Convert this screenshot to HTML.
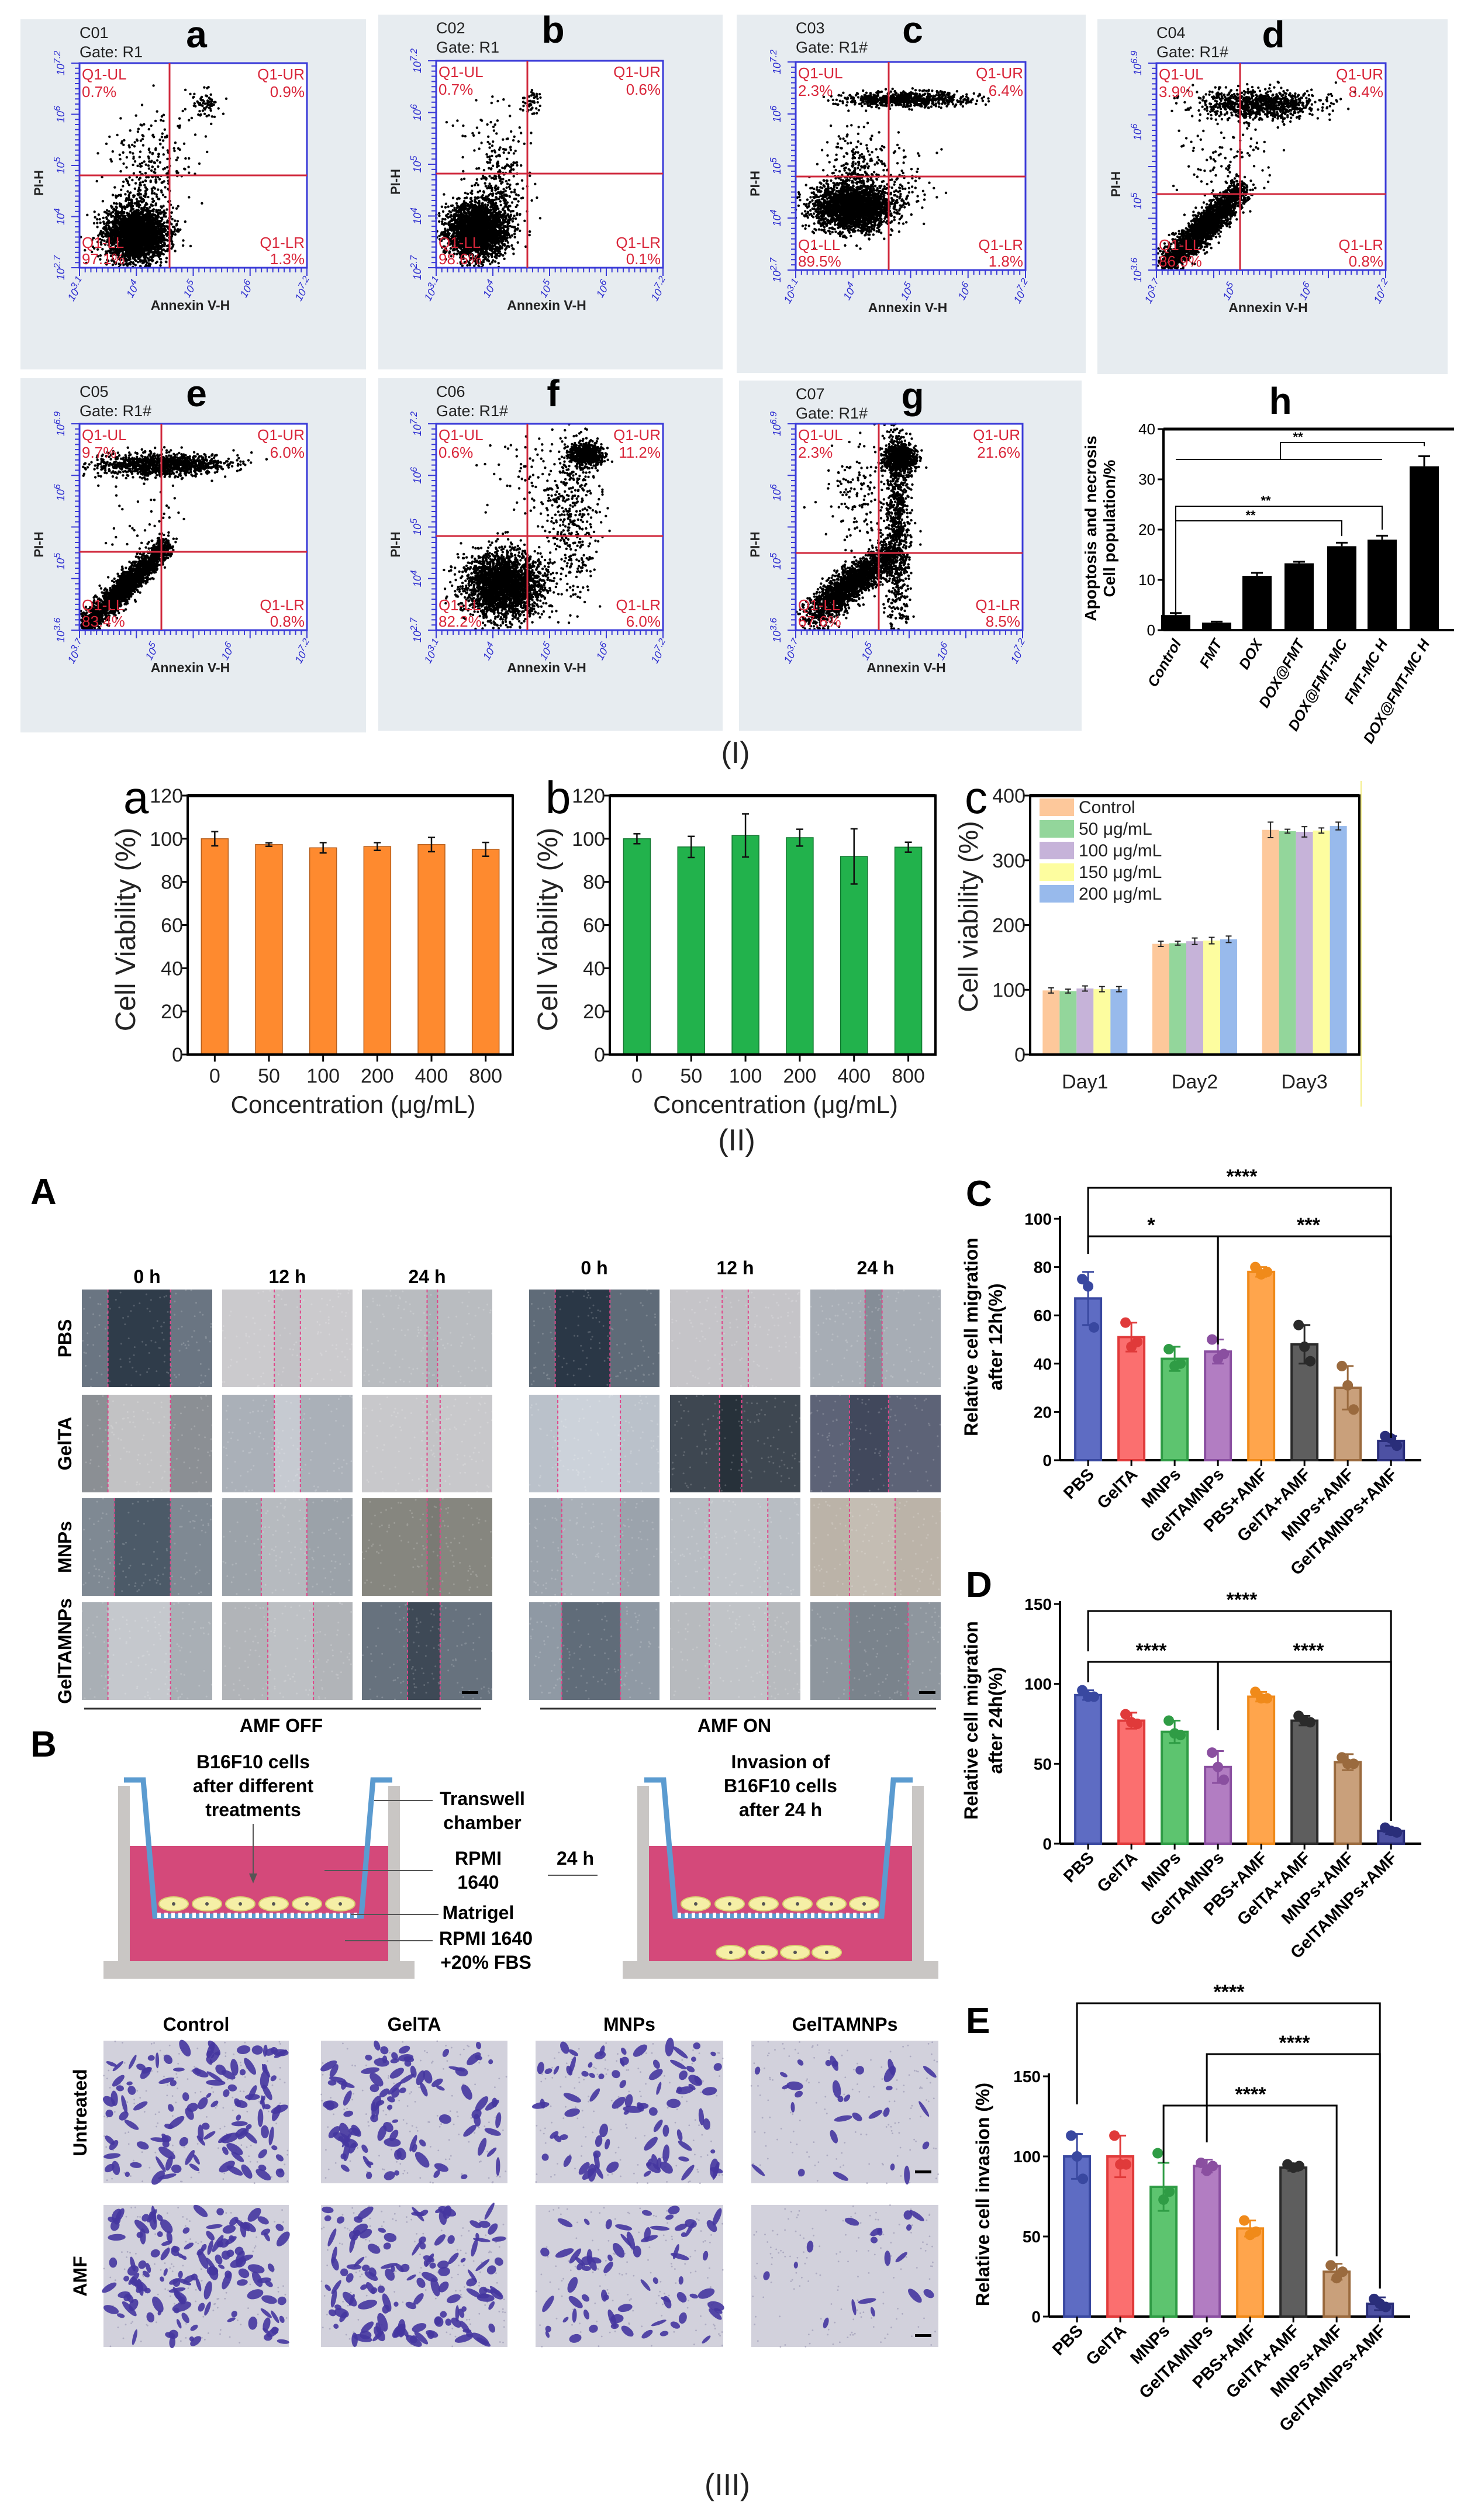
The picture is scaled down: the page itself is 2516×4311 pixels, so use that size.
<!DOCTYPE html>
<html><head><meta charset="utf-8"><title>Figure</title>
<style>
html,body{margin:0;padding:0;background:#fff;}
svg{display:block;}
</style></head>
<body>
<svg id="fig" xmlns="http://www.w3.org/2000/svg" width="2516" height="4311" viewBox="0 0 2516 4311">
<rect x="0" y="0" width="2516" height="4311" fill="#ffffff"/>
</svg>
<script>
/* ---------- DATA ---------- */
// Section I h
const hCats = ['Control','FMT','DOX','DOX@FMT','DOX@FMT-MC','FMT-MC H','DOX@FMT-MC H'];
const hVals = [3.0, 1.5, 10.8, 13.3, 16.7, 18.0, 32.6];
const hErrs = [0.4, 0.2, 0.6, 0.3, 0.7, 0.8, 2.0];
const hTicks = [0, 10, 20, 30, 40];
// Section II a/b
const conc = ['0','50','100','200','400','800'];
const viaA = [100, 97.3, 95.8, 96.4, 97.3, 95.1];
const errA = [3.3, 0.8, 2.4, 1.8, 3.3, 3.2];
const viaB = [100, 96.2, 101.5, 100.5, 91.8, 96.1];
const errB = [2.3, 4.9, 10.0, 3.9, 12.8, 2.3];
const viaTicks = [0, 20, 40, 60, 80, 100, 120];
// Section II c
const days = ['Day1','Day2','Day3'];
const doseNames = ['Control','50 μg/mL','100 μg/mL','150 μg/mL','200 μg/mL'];
const day1 = [99, 98, 102, 101, 101];
const day2 = [171, 172, 175, 176, 178];
const day3 = [347, 345, 344, 346, 353];
const day1Err = [4, 3, 4, 4, 4];
const day2Err = [4, 3, 5, 5, 5];
const day3Err = [12, 3, 8, 4, 6];
const dayTicks = [0, 100, 200, 300, 400];
// Section III
const groups = ['PBS','GelTA','MNPs','GelTAMNPs','PBS+AMF','GelTA+AMF','MNPs+AMF','GelTAMNPs+AMF'];
const migr12 = [67, 51, 42, 45, 78, 48, 30, 8];
const migr12Err = [11, 6, 5, 5, 2, 8, 9, 2];
const migr12Dots = [[75,72,55],[57,47,49],[46,39,40],[50,42,44],[80,77,78],[56,47,41],[39,31,21],[10,9,6]];
const migr12Ticks = [0,20,40,60,80,100];
const migr24 = [93, 77, 70, 48, 92, 77, 51, 8];
const migr24Err = [3, 5, 7, 10, 3, 3, 5, 2];
const migr24Dots = [[96,92,92],[81,76,75],[77,69,68],[57,48,40],[95,91,91],[80,77,76],[54,50,50],[10,8,7]];
const migr24Ticks = [0,50,100,150];
const inv = [100, 100, 81, 94, 55, 93, 28, 8];
const invErr = [14, 13, 15, 4, 5, 2, 5, 4];
const invDots = [[113,100,86],[113,95,95],[102,73,78],[96,91,94],[60,51,53],[95,93,94],[32,24,28],[11,8,6]];
const invTicks = [0,50,100,150];
// Flow cytometry quadrant percentages [UL, UR, LL, LR]
const flowQ = {a:['0.7%','0.9%','97.1%','1.3%'], b:['0.7%','0.6%','98.6%','0.1%'], c:['2.3%','6.4%','89.5%','1.8%'], d:['3.9%','8.4%','86.9%','0.8%'], e:['9.7%','6.0%','83.4%','0.8%'], f:['0.6%','11.2%','82.2%','6.0%'], g:['2.3%','21.6%','67.6%','8.5%']};
// cluster descriptors (fractions of plot): gaussian [cx,cy,sx,sy,n]; line ['L',x1,y1,x2,y2,w,n]
const flowClusters = {
 a:[[0.25,0.84,0.065,0.065,2800],[0.30,0.60,0.08,0.14,300],[0.55,0.20,0.035,0.035,70],[0.35,0.35,0.1,0.1,50]],
 b:[[0.18,0.82,0.065,0.065,2600],[0.28,0.62,0.06,0.12,280],[0.42,0.20,0.02,0.03,50],[0.22,0.4,0.08,0.1,50]],
 c:[[0.25,0.70,0.085,0.055,2400],[0.48,0.18,0.14,0.018,700],[0.25,0.50,0.06,0.08,200],[0.4,0.6,0.12,0.1,150]],
 d:[['L',0.06,0.96,0.36,0.62,0.03,2200],[0.45,0.20,0.13,0.035,900],[0.3,0.45,0.1,0.12,100]],
 e:[['L',0.04,0.97,0.37,0.60,0.025,2200],[0.36,0.20,0.14,0.028,1100],[0.3,0.5,0.1,0.12,50]],
 f:[[0.30,0.78,0.085,0.075,2600],[0.66,0.15,0.035,0.028,600],[0.60,0.45,0.06,0.2,400],[0.45,0.3,0.1,0.15,100]],
 g:[['L',0.08,0.93,0.40,0.64,0.035,2000],[0.45,0.50,0.028,0.25,900],[0.46,0.17,0.035,0.035,700],[0.28,0.35,0.08,0.15,150]]
};

/* ---------- HELPERS ---------- */
const NS='http://www.w3.org/2000/svg';
const svg=document.getElementById('fig');
const FONT='"Liberation Sans", Arial, sans-serif';
function mk(tag, attrs, name, parent){
  const el=document.createElementNS(NS,tag);
  for(const k in attrs) el.setAttribute(k,attrs[k]);
  
  
  (parent||svg).appendChild(el);
  return el;
}
function txt(x,y,s,size,opts,name,parent){
  const a=Object.assign({x:x,y:y,'font-size':size,'font-family':FONT},opts||{});
  const el=mk('text',a,name,parent);
  el.textContent=s;
  return el;
}
function line(x1,y1,x2,y2,stroke,w,name,parent,extra){
  return mk('line',Object.assign({x1,y1,x2,y2,stroke,'stroke-width':w},extra||{}),name,parent);
}
let seed=12345;
function rnd(){ seed=(seed*1103515245+12345)%2147483648; return seed/2147483648; }
function gauss(){ let u=rnd()||1e-6, v=rnd(); return Math.sqrt(-2*Math.log(u))*Math.cos(2*Math.PI*v); }

/* ---------- SECTION I: FLOW PANELS ---------- */
const flowPanels=[
 {id:'a',code:'C01',gate:'Gate: R1', box:[35,33,626,632], plot:[136,108,525,458], vx:290, hy:300, xt:['3.1','4','5','6','7.2'], yt:['2.7','4','5','6','7.2']},
 {id:'b',code:'C02',gate:'Gate: R1', box:[647,25,1236,632], plot:[746,104,1134,458], vx:902, hy:297, xt:['3.1','4','5','6','7.2'], yt:['2.7','4','5','6','7.2']},
 {id:'c',code:'C03',gate:'Gate: R1#', box:[1260,25,1857,638], plot:[1361,106,1754,462], vx:1520, hy:302, xt:['3.1','4','5','6','7.2'], yt:['2.7','4','5','6','7.2']},
 {id:'d',code:'C04',gate:'Gate: R1#', box:[1877,33,2476,640], plot:[1978,108,2370,462], vx:2121, hy:332, xt:['3.7','5','6','7.2'], yt:['3.6','5','6','6.9']},
 {id:'e',code:'C05',gate:'Gate: R1#', box:[35,647,626,1253], plot:[136,725,525,1078], vx:276, hy:944, xt:['3.7','5','6','7.2'], yt:['3.6','5','6','6.9']},
 {id:'f',code:'C06',gate:'Gate: R1#', box:[647,647,1236,1250], plot:[746,725,1134,1078], vx:902, hy:917, xt:['3.1','4','5','6','7.2'], yt:['2.7','4','5','6','7.2']},
 {id:'g',code:'C07',gate:'Gate: R1#', box:[1264,651,1850,1250], plot:[1361,725,1749,1078], vx:1503, hy:946, xt:['3.7','5','6','7.2'], yt:['3.6','5','6','6.9']}
];
flowPanels.forEach(p=>{
  const g=mk('g',{},'flow-panel-'+p.id);
  const [bx0,by0,bx1,by1]=p.box, [px0,py0,px1,py1]=p.plot;
  mk('rect',{x:bx0,y:by0,width:bx1-bx0,height:by1-by0,fill:'#e7ecf0'},'panel-background',g);
  mk('rect',{x:px0,y:py0,width:px1-px0,height:py1-py0,fill:'#ffffff'},'plot-area',g);
  txt(px0,by0+32,p.code,27,{fill:'#222'},'sample-code',g);
  txt(px0,by0+65,p.gate,27,{fill:'#222'},'gate-label',g);
  txt(px0+200,by0+48,p.id,64,{'font-weight':'bold',fill:'#000','text-anchor':'middle'},'panel-letter',g);
  const W=px1-px0, H=py1-py0;
  const dg=mk('g',{fill:'#000'},'dot-cloud',g);
  const cl=flowClusters[p.id];
  cl.forEach(c=>{
    if(c[0]==='L'){
      const [_,x1,y1,x2,y2,w,n]=c;
      for(let i=0;i<n;i++){
        const t=Math.min(1,Math.max(0,0.5+0.3*gauss()));
        let fx=x1+(x2-x1)*t+w*gauss(), fy=y1+(y2-y1)*t+w*gauss();
        if(fx<0||fx>1||fy<0||fy>1) continue;
        mk('circle',{cx:(px0+fx*W).toFixed(1),cy:(py0+fy*H).toFixed(1),r:2.2},'event-dot',dg);
      }
    } else {
      const [cx,cy,sx,sy,n]=c;
      for(let i=0;i<n;i++){
        let fx=cx+sx*gauss(), fy=cy+sy*gauss();
        if(fx<0||fx>1||fy<0||fy>1) continue;
        mk('circle',{cx:(px0+fx*W).toFixed(1),cy:(py0+fy*H).toFixed(1),r:2.2},'event-dot',dg);
      }
    }
  });
  mk('rect',{x:px0,y:py0,width:W,height:H,fill:'none',stroke:'#3a3ad8','stroke-width':3},'plot-border',g);
  line(p.vx,py0,p.vx,py1,'#d0283c',3,'quadrant-vertical-gate',g);
  line(px0,p.hy,px1,p.hy,'#d0283c',3,'quadrant-horizontal-gate',g);
  const q=flowQ[p.id], red='#d9263a';
  txt(px0+4,py0+28,'Q1-UL',26,{fill:red},'quadrant-ul-label',g);
  txt(px0+4,py0+58,q[0],26,{fill:red},'quadrant-ul-value',g);
  txt(px1-4,py0+28,'Q1-UR',26,{fill:red,'text-anchor':'end'},'quadrant-ur-label',g);
  txt(px1-4,py0+58,q[1],26,{fill:red,'text-anchor':'end'},'quadrant-ur-value',g);
  txt(px0+4,py1-34,'Q1-LL',26,{fill:red},'quadrant-ll-label',g);
  txt(px0+4,py1-6,q[2],26,{fill:red},'quadrant-ll-value',g);
  txt(px1-4,py1-34,'Q1-LR',26,{fill:red,'text-anchor':'end'},'quadrant-lr-label',g);
  txt(px1-4,py1-6,q[3],26,{fill:red,'text-anchor':'end'},'quadrant-lr-value',g);
  for(let i=0;i<=40;i++){
    const x=px0+i*W/40; line(x,py1,x,py1+(i%10===0?14:8),'#3a3ad8',2,'x-tick',g);
    const y=py0+i*H/40; line(px0,y,px0-(i%10===0?14:8),y,'#3a3ad8',2,'y-tick',g);
  }
  p.xt.forEach((t,i)=>{
    const x=px0+i*W/(p.xt.length-1);
    const el=txt(x,py1+40,'10',18,{fill:'#2a2ad0','font-style':'italic',transform:`rotate(-60 ${x} ${py1+40})`,'text-anchor':'middle'},'x-tick-label',g);
    const ts=document.createElementNS(NS,'tspan'); ts.setAttribute('dy','-7'); ts.setAttribute('font-size','16'); ts.textContent=t; el.appendChild(ts);
  });
  p.yt.forEach((t,i)=>{
    const y=py1-i*H/(p.yt.length-1), x=px0-26;
    const el=txt(x,y,'10',18,{fill:'#2a2ad0','font-style':'italic',transform:`rotate(-90 ${x} ${y})`,'text-anchor':'middle'},'y-tick-label',g);
    const ts=document.createElementNS(NS,'tspan'); ts.setAttribute('dy','-7'); ts.setAttribute('font-size','16'); ts.textContent=t; el.appendChild(ts);
  });
  txt((px0+px1)/2-5,py1+72,'Annexin V-H',23,{'font-weight':'bold','text-anchor':'middle',fill:'#222'},'x-axis-title',g);
  const ly=(py0+py1)/2+30, lx=px0-62;
  txt(lx,ly,'PI-H',22,{'font-weight':'bold','text-anchor':'middle',fill:'#222',transform:`rotate(-90 ${lx} ${ly})`},'y-axis-title',g);
});

/* ---------- SECTION I h: BAR CHART ---------- */
(function(){
  const g=mk('g',{},'chart-h');
  const x0=1990,x1=2487,yB=1078,yT=734,max=40;
  const Y=v=>yB-(v/max)*(yB-yT);
  const centers=[2011,2081,2150,2222,2295,2364,2436];
  txt(2190,708,'h',64,{'font-weight':'bold','text-anchor':'middle'},'panel-letter',g);
  line(x0,yT,x1,yT,'#000',5,'plot-top-border',g);
  line(x0,yT,x0,yB,'#000',4,'y-axis-line',g);
  line(x0,yB,x1,yB,'#000',4,'x-axis-line',g);
  hTicks.forEach(t=>{ line(x0-10,Y(t),x0,Y(t),'#000',3,'y-tick',g); txt(x0-14,Y(t)+9,String(t),26,{'text-anchor':'end'},'y-tick-label',g); });
  const xs=i=>x0+(centers[i]-1990);
  hVals.forEach((v,i)=>{
    const c=xs(i);
    mk('rect',{x:c-25,y:Y(v),width:50,height:yB-Y(v),fill:'#000'},'bar-'+hCats[i].toLowerCase(),g);
    line(c,Y(v+hErrs[i]),c,Y(v),'#000',3,'error-bar',g);
    line(c-10,Y(v+hErrs[i]),c+10,Y(v+hErrs[i]),'#000',3,'error-cap',g);
    const lx=c+10, ly=yB+22;
    txt(lx,ly,hCats[i],25,{'font-weight':'bold','font-style':'italic','text-anchor':'end',transform:`rotate(-60 ${lx} ${ly})`},'x-tick-label',g);
  });
  mk('path',{d:`M${xs(0)} ${Y(1.5)} V891 H${xs(4)} V${Y(16.7+2)}`,fill:'none',stroke:'#000','stroke-width':2},'significance-bracket',g);
  mk('path',{d:`M${xs(0)} 891 V866 H${xs(5)} V${Y(18+2)}`,fill:'none',stroke:'#000','stroke-width':2},'significance-bracket',g);
  txt(2139,889,'**',22,{'font-weight':'bold','text-anchor':'middle'},'significance-label',g);
  txt(2165,864,'**',22,{'font-weight':'bold','text-anchor':'middle'},'significance-label',g);
  mk('path',{d:`M${xs(0)} 786 H${xs(5)} M2190 786 V757 H${xs(6)} V${Y(34.6+2)}`,fill:'none',stroke:'#000','stroke-width':2},'significance-bracket',g);
  txt(2220,755,'**',22,{'font-weight':'bold','text-anchor':'middle'},'significance-label',g);
  const ax=1875, ay=904;
  txt(ax,ay,'Apoptosis and necrosis',28,{'font-weight':'bold','text-anchor':'middle',transform:`rotate(-90 ${ax} ${ay})`},'y-axis-title',g);
  txt(ax+32,ay,'Cell population/%',28,{'font-weight':'bold','text-anchor':'middle',transform:`rotate(-90 ${ax+32} ${ay})`},'y-axis-title',g);
})();
txt(1258,1305,'(I)',52,{'text-anchor':'middle',fill:'#222'},'section-label-i');

/* ---------- SECTION II ---------- */
function vbar(name,letter,x0,x1,vals,errs,fill,stroke){
  const g=mk('g',{},name);
  const yB=1804,yT=1361,max=120;
  const Y=v=>yB-(v/max)*(yB-yT);
  const band=(x1-x0)/6;
  txt(x0-110,yT+30,letter,78,{},'panel-letter',g);
  vals.forEach((v,i)=>{
    const c=x0+band*(i+0.5);
    mk('rect',{x:c-23,y:Y(v),width:46,height:yB-Y(v),fill:fill,stroke:stroke,'stroke-width':1.5},'bar-'+conc[i],g);
    line(c,Y(v+errs[i]),c,Y(v-errs[i]),'#111',2.5,'error-bar',g);
    line(c-6,Y(v+errs[i]),c+6,Y(v+errs[i]),'#111',2.5,'error-cap',g);
    line(c-6,Y(v-errs[i]),c+6,Y(v-errs[i]),'#111',2.5,'error-cap',g);
    line(c,yB,c,yB+12,'#000',3,'x-tick',g);
    txt(c,yB+48,conc[i],34,{'text-anchor':'middle',fill:'#222'},'x-tick-label',g);
  });
  viaTicks.forEach(t=>{ line(x0-10,Y(t),x0,Y(t),'#000',3,'y-tick',g); txt(x0-8,Y(t)+12,String(t),34,{'text-anchor':'end',fill:'#222'},'y-tick-label',g); });
  mk('rect',{x:x0,y:yT,width:x1-x0,height:yB-yT,fill:'none',stroke:'#000','stroke-width':4},'plot-frame',g);
  line(x0,yT,x1,yT,'#000',6,'plot-top-border',g);
  txt((x0+x1)/2+5,yB+100,'Concentration (μg/mL)',42,{'text-anchor':'middle',fill:'#222'},'x-axis-title',g);
  const ax=x0-90, ay=1590;
  txt(ax,ay,'Cell Viability (%)',48,{'text-anchor':'middle',fill:'#222',transform:`rotate(-90 ${ax} ${ay})`},'y-axis-title',g);
}
vbar('chart-ii-a','a',321,877,viaA,errA,'#fe8a2f','#b85f1c');
vbar('chart-ii-b','b',1043,1600,viaB,errB,'#22b24c','#137a31');
(function(){
  const g=mk('g',{},'chart-ii-c');
  const x0=1762,x1=2325,yB=1804,yT=1361,max=400;
  const Y=v=>yB-(v/max)*(yB-yT);
  const band=(x1-x0)/3;
  const cols=['#fdc89b','#93d69b','#c6b3d9','#fdfd9f','#98baec'];
  const series=[day1,day2,day3], errs=[day1Err,day2Err,day3Err];
  txt(x0-112,yT+30,'c',78,{},'panel-letter',g);
  series.forEach((arr,gi)=>{
    const gc=x0+band*(gi+0.5);
    arr.forEach((v,j)=>{
      const c=gc+(j-2)*29;
      mk('rect',{x:c-14.5,y:Y(v),width:29,height:yB-Y(v),fill:cols[j]},'bar-'+days[gi].toLowerCase()+'-dose-'+j,g);
      const e=errs[gi][j];
      line(c,Y(v+e),c,Y(v-e),'#222',2,'error-bar',g);
      line(c-5,Y(v+e),c+5,Y(v+e),'#222',2,'error-cap',g);
      line(c-5,Y(v-e),c+5,Y(v-e),'#222',2,'error-cap',g);
    });
    txt(gc,yB+58,days[gi],34,{'text-anchor':'middle',fill:'#222'},'x-tick-label',g);
  });
  dayTicks.forEach(t=>{ line(x0-10,Y(t),x0,Y(t),'#000',3,'y-tick',g); txt(x0-8,Y(t)+12,String(t),34,{'text-anchor':'end',fill:'#222'},'y-tick-label',g); });
  mk('rect',{x:x0,y:yT,width:x1-x0,height:yB-yT,fill:'none',stroke:'#000','stroke-width':4},'plot-frame',g);
  line(x0,yT,x1,yT,'#000',6,'plot-top-border',g);
  line(x1+3,1336,x1+3,1893,'#f4ee8a',2,'edge-line',g);
  doseNames.forEach((n,j)=>{
    const ly=1366+j*37;
    mk('rect',{x:1778,y:ly,width:59,height:30,fill:cols[j]},'legend-swatch',g);
    txt(1845,ly+25,n,30,{fill:'#222'},'legend-entry',g);
  });
  const ax=1672, ay=1568;
  txt(ax,ay,'Cell viability (%)',46,{'text-anchor':'middle',fill:'#222',transform:`rotate(-90 ${ax} ${ay})`},'y-axis-title',g);
})();
txt(1260,1968,'(II)',52,{'text-anchor':'middle',fill:'#222'},'section-label-ii');

/* ---------- SECTION III A: WOUND IMAGES ---------- */
txt(52,2060,'A',62,{'font-weight':'bold'},'panel-letter-a');
const woundCols=[[140,363],[380,603],[619,842],[905,1128],[1146,1369],[1386,1609]];
const woundRows=[[2206,2373],[2386,2553],[2563,2730],[2741,2908]];
const woundSpec=[
 [['#6a7582','#2f3c4a',.2,.68],['#cbcacd','#c3c2c6',.4,.6],['#b9bcc0','#aab0b6',.5,.58],['#5f6b78','#2a3746',.2,.62],['#c5c4c8','#c0bfc3',.4,.6],['#a7adb5','#858d97',.42,.55]],
 [['#8b8f94','#c2c2c4',.2,.68],['#aab0b8','#c6cad1',.4,.6],['#c8c8cb','#c3c3c6',.5,.6],['#bac1ca','#ccd2da',.22,.7],['#3e4751','#27313a',.38,.55],['#5d6377','#41485c',.3,.6]],
 [['#7f8993','#4c5a68',.25,.68],['#9ba2a9','#b6babf',.3,.65],['#86867f','#7a7a74',.5,.6],['#9ba3ac','#a9b0b8',.25,.7],['#b8bdc3','#c0c4c9',.3,.75],['#bbb3a8','#c4bdb3',.3,.65]],
 [['#a9afb5','#c5c8cd',.2,.68],['#b1b4b8','#bdc0c4',.35,.7],['#67727e','#3e4956',.35,.6],['#8f99a4','#606c79',.25,.7],['#b7babe','#c0c3c7',.3,.75],['#8e969e','#7a838c',.3,.75]]
];
const woundRowNames=['PBS','GelTA','MNPs','GelTAMNPs'];
const woundColNames=['0 h','12 h','24 h','0 h','12 h','24 h'];
woundRows.forEach((r,ri)=>{
  woundCols.forEach((c,ci)=>{
    const g=mk('g',{},'wound-image-'+woundRowNames[ri].toLowerCase()+'-'+ci);
    const [base,gap,l,rr]=woundSpec[ri][ci], w=c[1]-c[0], h=r[1]-r[0];
    mk('rect',{x:c[0],y:r[0],width:w,height:h,fill:base},'image-background',g);
    mk('rect',{x:c[0]+w*l,y:r[0],width:w*(rr-l),height:h,fill:gap},'wound-gap',g);
    seed=500+ri*7+ci;
    const tg=mk('g',{fill:'#ffffff',opacity:0.18},'cell-texture',g);
    for(let k=0;k<120;k++){ mk('circle',{cx:(c[0]+rnd()*w).toFixed(1),cy:(r[0]+rnd()*h).toFixed(1),r:1.5},'texture-dot',tg); }
    line(c[0]+w*l,r[0],c[0]+w*l,r[1],'#e0468a',2,'wound-edge-line',g,{'stroke-dasharray':'5 4'});
    line(c[0]+w*rr,r[0],c[0]+w*rr,r[1],'#e0468a',2,'wound-edge-line',g,{'stroke-dasharray':'5 4'});
  });
});
woundColNames.forEach((n,ci)=>{ const c=woundCols[ci]; txt((c[0]+c[1])/2,ci<3?2195:2180,n,32,{'font-weight':'bold','text-anchor':'middle'},'time-column-header'); });
woundRowNames.forEach((n,ri)=>{ const r=woundRows[ri], y=(r[0]+r[1])/2; txt(122,y,n,32,{'font-weight':'bold','text-anchor':'middle',transform:`rotate(-90 122 ${y})`},'row-label'); });
line(144,2923,823,2923,'#333',3,'group-underline');
line(924,2923,1601,2923,'#333',3,'group-underline');
txt(481,2963,'AMF OFF',32,{'font-weight':'bold','text-anchor':'middle'},'group-label-amf-off');
txt(1256,2963,'AMF ON',32,{'font-weight':'bold','text-anchor':'middle'},'group-label-amf-on');
mk('rect',{x:790,y:2893,width:28,height:5,fill:'#000'},'scale-bar');
mk('rect',{x:1572,y:2893,width:28,height:5,fill:'#000'},'scale-bar');

/* ---------- SECTION III B: TRANSWELL ---------- */
txt(52,3005,'B',62,{'font-weight':'bold'},'panel-letter-b');
function transwell(name,ox0,ox1,ins0,ins1,topCells,botCells){
  const g=mk('g',{},name);
  mk('path',{d:`M${ox0} 3385 V3355 H${ox0+25} V3055 H${ox0+45} V3355 H${ox1-45} V3055 H${ox1-25} V3355 H${ox1} V3385 Z`,fill:'#c9c6c4'},'outer-well',g);
  mk('rect',{x:ox0+45,y:3158,width:ox1-ox0-90,height:197,fill:'#d4497a'},'medium',g);
  mk('path',{d:`M${ins0-45} 3045 H${ins0-12} L${ins0+8} 3278 H${ins1-8} L${ins1+12} 3045 H${ins1+45}`,fill:'none',stroke:'#5b9bd0','stroke-width':9},'transwell-insert',g);
  for(let x=ins0+12;x<ins1-12;x+=12){ mk('rect',{x:x,y:3272,width:6,height:9,fill:'#ffffff'},'matrigel-membrane',g); }
  topCells.forEach(x=>{ mk('ellipse',{cx:x,cy:3257,rx:25,ry:12,fill:'#f5efa6',stroke:'#d8cf70','stroke-width':2},'cell',g); mk('circle',{cx:x,cy:3257,r:3,fill:'#555'},'nucleus',g); });
  botCells.forEach(x=>{ mk('ellipse',{cx:x,cy:3340,rx:25,ry:12,fill:'#f5efa6',stroke:'#d8cf70','stroke-width':2},'cell',g); mk('circle',{cx:x,cy:3340,r:3,fill:'#555'},'nucleus',g); });
  return g;
}
transwell('transwell-before',177,709,257,626,[297,354,411,468,525,582],[]);
transwell('transwell-after',1065,1605,1147,1516,[1190,1248,1306,1364,1422,1478],[1250,1305,1360,1414]);
[['B16F10 cells',3025],['after different',3066],['treatments',3107]].forEach(a=>txt(433,a[1],a[0],32,{'font-weight':'bold','text-anchor':'middle'},'diagram-annotation'));
line(433,3120,433,3215,'#555',2,'annotation-arrow');
mk('path',{d:'M426 3205 L433 3222 L440 3205 Z',fill:'#555'},'arrow-head');
[['Transwell',3088],['chamber',3129]].forEach(a=>txt(825,a[1],a[0],32,{'font-weight':'bold','text-anchor':'middle'},'diagram-annotation'));
line(740,3080,640,3080,'#555',2,'annotation-arrow');
[['RPMI',3190],['1640',3231]].forEach(a=>txt(818,a[1],a[0],32,{'font-weight':'bold','text-anchor':'middle'},'diagram-annotation'));
line(740,3200,555,3200,'#555',2,'annotation-arrow');
txt(818,3283,'Matrigel',32,{'font-weight':'bold','text-anchor':'middle'},'diagram-annotation');
line(750,3275,600,3275,'#555',2,'annotation-arrow');
[['RPMI 1640',3327],['+20% FBS',3368]].forEach(a=>txt(831,a[1],a[0],32,{'font-weight':'bold','text-anchor':'middle'},'diagram-annotation'));
line(740,3320,590,3320,'#555',2,'annotation-arrow');
txt(984,3190,'24 h',32,{'font-weight':'bold','text-anchor':'middle'},'time-annotation');
line(937,3208,1022,3208,'#555',2,'process-arrow');
[['Invasion of',3025],['B16F10 cells',3066],['after 24 h',3107]].forEach(a=>txt(1335,a[1],a[0],32,{'font-weight':'bold','text-anchor':'middle'},'diagram-annotation'));

/* invasion images */
const invCols=[[177,494],[549,868],[916,1237],[1285,1605]];
const invRows=[[3491,3735],[3772,4015]];
const invColNames=['Control','GelTA','MNPs','GelTAMNPs'];
const invDensity=[[120,95,85,30],[140,130,70,18]];
invColNames.forEach((n,ci)=>txt((invCols[ci][0]+invCols[ci][1])/2,3474,n,32,{'font-weight':'bold','text-anchor':'middle'},'column-header'));
[['Untreated',3614],['AMF',3894]].forEach(a=>txt(148,a[1],a[0],32,{'font-weight':'bold','text-anchor':'middle',transform:`rotate(-90 148 ${a[1]})`},'row-label'));
invRows.forEach((r,ri)=>invCols.forEach((c,ci)=>{
  const g=mk('g',{},'invasion-image-'+invColNames[ci].toLowerCase()+'-'+ri);
  const w=c[1]-c[0], h=r[1]-r[0];
  mk('rect',{x:c[0],y:r[0],width:w,height:h,fill:'#d2d1dc'},'image-background',g);
  seed=1000+ri*10+ci;
  const tg=mk('g',{fill:'#8a86a8',opacity:0.5},'background-speckle',g);
  for(let k=0;k<150;k++){ mk('circle',{cx:(c[0]+rnd()*w).toFixed(1),cy:(r[0]+rnd()*h).toFixed(1),r:1.4},'speckle-dot',tg); }
  for(let k=0;k<invDensity[ri][ci];k++){
    const x=c[0]+8+rnd()*(w-16), y=r[0]+8+rnd()*(h-16), rx=4+rnd()*13, ry=3+rnd()*5, a=rnd()*180;
    mk('ellipse',{cx:x.toFixed(1),cy:y.toFixed(1),rx:rx.toFixed(1),ry:ry.toFixed(1),fill:'#4536a0',opacity:0.9,transform:`rotate(${a.toFixed(0)} ${x.toFixed(1)} ${y.toFixed(1)})`},'stained-cell',g);
  }
  if(ci===3){ mk('rect',{x:c[1]-40,y:r[1]-22,width:28,height:5,fill:'#000'},'scale-bar',g); }
}));

/* ---------- SECTION III C/D/E: BAR + DOT CHARTS ---------- */
const grpFill=['#5e6cc3','#fb6f6f','#5dc46f','#b27dc2','#ffa54c','#5e5e5e','#c9a07b','#4d51a3'];
const grpStroke=['#3948a0','#e03a3a','#2f9c45','#8a4fa0','#f08a1a','#2a2a2a','#9a6a3e','#2a2e7a'];
function dotBar(cfg){
  const g=mk('g',{},cfg.name);
  const {x0,x1,yB,yT,max,vals,errs,dots,ticks}=cfg;
  const Y=v=>yB-(v/max)*(yB-yT);
  const band=(x1-x0)/8.35;
  const C=i=>x0+band*(i+0.65);
  txt(1652,cfg.letterY,cfg.letter,62,{'font-weight':'bold'},'panel-letter',g);
  line(x0,yT-5,x0,yB,'#000',4,'y-axis-line',g);
  line(x0,yB,x1,yB,'#000',4,'x-axis-line',g);
  ticks.forEach(t=>{ line(x0-10,Y(t),x0,Y(t),'#000',3,'y-tick',g); txt(x0-14,Y(t)+10,String(t),28,{'text-anchor':'end','font-weight':'bold'},'y-tick-label',g); });
  vals.forEach((v,i)=>{
    const c=C(i);
    mk('rect',{x:c-22,y:Y(v),width:44,height:yB-Y(v),fill:grpFill[i],stroke:grpStroke[i],'stroke-width':4},'bar-'+groups[i].toLowerCase(),g);
    line(c,Y(v+errs[i]),c,Y(Math.max(0,v-errs[i])),grpStroke[i],3,'error-bar',g);
    line(c-10,Y(v+errs[i]),c+10,Y(v+errs[i]),grpStroke[i],3,'error-cap',g);
    line(c-10,Y(Math.max(0,v-errs[i])),c+10,Y(Math.max(0,v-errs[i])),grpStroke[i],3,'error-cap',g);
    dots[i].forEach((d,k)=>{ mk('circle',{cx:c+(k-1)*10,cy:Y(d),r:9,fill:grpStroke[i]},'replicate-dot',g); });
    line(c,yB,c,yB+10,'#000',3,'x-tick',g);
    const lx=c+12, ly=yB+26;
    txt(lx,ly,groups[i],29,{'font-weight':'bold','text-anchor':'end',transform:`rotate(-45 ${lx} ${ly})`},'x-tick-label',g);
  });
  cfg.brackets.forEach(b=>{
    mk('path',{d:`M${C(b[0])} ${b[3]} V${b[2]} H${C(b[1])} V${b[4]}`,fill:'none',stroke:'#000','stroke-width':3},'significance-bracket',g);
    txt(b[5],b[2]-8,b[6],34,{'font-weight':'bold','text-anchor':'middle'},'significance-label',g);
  });
  const ax=cfg.yLabelX, ay=cfg.yLabelY;
  cfg.yLabel.forEach((s,k)=>txt(ax+k*42,ay,s,32,{'font-weight':'bold','text-anchor':'middle',transform:`rotate(-90 ${ax+k*42} ${ay})`},'y-axis-title',g));
}
dotBar({name:'chart-c',letter:'C',letterY:2063,x0:1813,x1:2431,yB:2498,yT:2085,max:100,vals:migr12,errs:migr12Err,dots:migr12Dots,ticks:migr12Ticks,
  brackets:[[0,7,2032,2145,2460,2124,'****'],[0,3,2115,2145,2300,1969,'*'],[3,7,2115,2300,2460,2238,'***']],
  yLabel:['Relative cell migration','after 12h(%)'],yLabelX:1672,yLabelY:2287});
dotBar({name:'chart-d',letter:'D',letterY:2732,x0:1813,x1:2431,yB:3154,yT:2744,max:150,vals:migr24,errs:migr24Err,dots:migr24Dots,ticks:migr24Ticks,
  brackets:[[0,7,2756,2825,3115,2124,'****'],[0,3,2843,2878,2960,1969,'****'],[3,7,2843,2960,3115,2238,'****']],
  yLabel:['Relative cell migration','after 24h(%)'],yLabelX:1672,yLabelY:2943});
dotBar({name:'chart-e',letter:'E',letterY:3478,x0:1794,x1:2412,yB:3963,yT:3552,max:150,vals:inv,errs:invErr,dots:invDots,ticks:invTicks,
  brackets:[[0,7,3427,3600,3915,2102,'****'],[3,7,3514,3665,3915,2214,'****'],[2,6,3602,3700,3860,2139,'****']],
  yLabel:['Relative cell invasion (%)'],yLabelX:1692,yLabelY:3754});
txt(1244,4268,'(III)',52,{'text-anchor':'middle',fill:'#222'},'section-label-iii');
</script>
</body></html>
